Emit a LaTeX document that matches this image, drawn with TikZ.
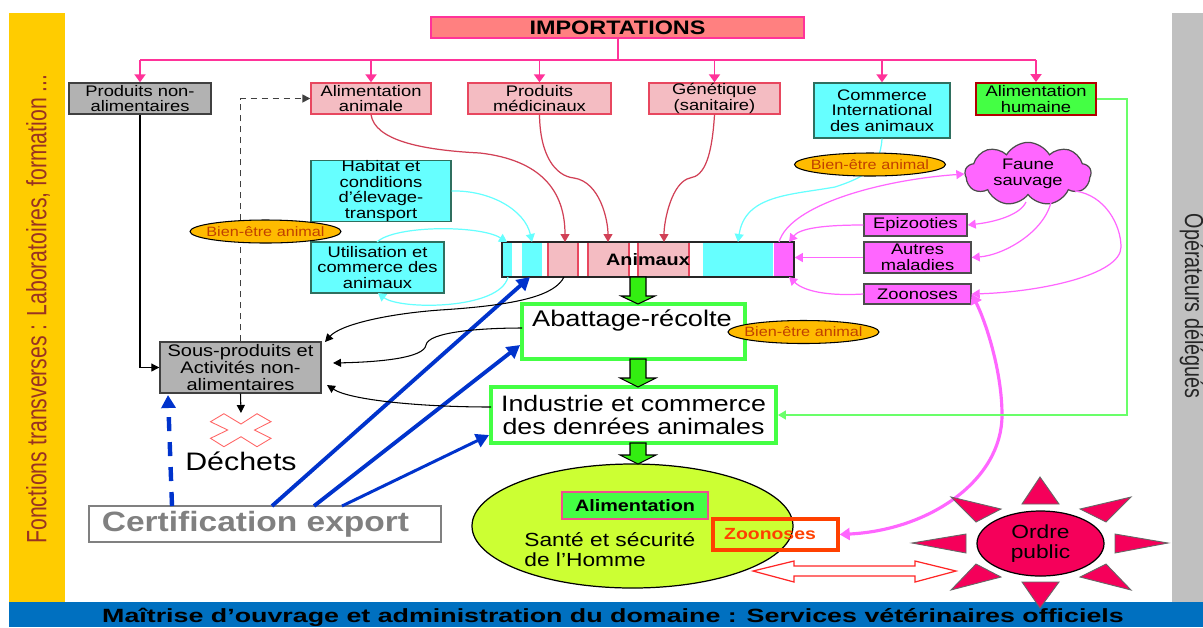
\documentclass[tikz,border=0pt]{standalone}
\usepackage{fontspec}
\setmainfont[FakeStretch=1.2]{Liberation Sans}
\newfontfamily\narrowfont[FakeStretch=0.76]{Liberation Sans}
\newfontfamily\widefont[FakeStretch=1.4]{Liberation Sans}
\usetikzlibrary{arrows.meta,shapes.geometric,shapes.symbols}
\def\pxu{0.02cm}
\definecolor{bandyellow}{HTML}{FFCC00}
\definecolor{bandgrey}{HTML}{C0C0C0}
\definecolor{bandblue}{HTML}{0070C0}
\definecolor{rosefill}{HTML}{F4BCC2}
\definecolor{roseline}{HTML}{E8475F}
\definecolor{cyanfill}{HTML}{66FFFF}
\definecolor{cyanline}{HTML}{2F6F5F}
\definecolor{magfill}{HTML}{FF66FF}
\definecolor{greenfill}{HTML}{44FF44}
\definecolor{greyfill}{HTML}{B2B2B2}
\definecolor{hotpink}{HTML}{FF3399}
\definecolor{arrowblue}{HTML}{0033CC}
\definecolor{sunred}{HTML}{F5005A}
\definecolor{limefill}{HTML}{CCFF33}
\definecolor{blockgreen}{HTML}{33EE11}
\definecolor{welfare}{HTML}{C04000}
\definecolor{welfarefill}{HTML}{FFBB00}
\definecolor{sidered}{HTML}{993322}
\definecolor{zoored}{HTML}{FF4000}
\tikzset{
  wh/.style 2 args={minimum width=#1*\pxu,minimum height=#2*\pxu},
  txt/.style={inner sep=0pt,align=center,font=\fontsize{8.7}{8.8}\selectfont},
  greybox/.style={txt,draw=black!75,fill=greyfill,line width=0.8pt},
  rosebox/.style={txt,draw=roseline,fill=rosefill,line width=0.8pt},
  cyanbox/.style={txt,draw=cyanline,fill=cyanfill,line width=0.8pt},
  magbox/.style={txt,draw=black!70,fill=magfill,line width=0.8pt},
  stagebox/.style={txt,draw=greenfill,fill=white,line width=2.2pt,font=\fontsize{12.7}{12.8}\selectfont},
  welfarelabel/.style={txt,ellipse,draw=black,fill=welfarefill,wh={151}{23},inner xsep=-7*\pxu,text=welfare,line width=0.6pt,font=\fontsize{7.7}{8}\selectfont},
  pinkline/.style={draw=hotpink,line width=1.1pt,-{Triangle[length=1.6mm,width=2.2mm]}},
  redline/.style={draw=roseline!90!black,line width=0.7pt,-{Triangle[length=1.6mm,width=1.8mm]}},
  cyanline/.style={draw=cyanfill,line width=0.7pt,-{Triangle[length=1.6mm,width=1.8mm]}},
  magline/.style={draw=magfill,line width=0.7pt,-{Triangle[length=1.6mm,width=1.8mm]}},
  blackline/.style={draw=black,line width=0.6pt,-{Triangle[length=1.6mm,width=1.6mm]}},
  blueline/.style={draw=arrowblue,line width=2.2pt,-{Triangle[length=2.6mm,width=2.8mm]}},
  suntri/.style={draw=black!60,fill=sunred,line width=0.5pt},
}
\begin{document}
\begin{tikzpicture}[x=0.02cm,y=-0.02cm]
\useasboundingbox (0,0) rectangle (1203,627);
% bands
\fill[bandyellow] (9,13) rectangle (65,602);
\fill[bandgrey] (1172,13) rectangle (1203,602);
\fill[bandblue] (9,602) rectangle (1203,627);
\node[txt,rotate=90,text=sidered,font=\narrowfont\fontsize{15.9}{16}\selectfont] (side) at (38,309) {Fonctions transverses : Laboratoires, formation ...};
\node[txt,rotate=-90,text=black!85,font=\narrowfont\fontsize{14.8}{15}\selectfont] (oper) at (1192,306) {Opérateurs délégués};
\node[txt,font=\widefont\bfseries\fontsize{10.9}{11}\selectfont] (moa) at (613,617) {Maîtrise d’ouvrage et administration du domaine : Services vétérinaires officiels};

% top row
\node[txt,wh={373}{21},draw=hotpink,fill=red!50,line width=0.8pt,font=\bfseries\fontsize{11.1}{11.2}\selectfont] (imp) at (617.5,27.5) {IMPORTATIONS};
\node[greybox,wh={142}{31}] (pna) at (140,98.5) {Produits non-\\alimentaires};
\node[rosebox,wh={120}{31}] (alan) at (371,98.5) {Alimentation\\animale};
\node[rosebox,wh={143}{31}] (pmed) at (539.5,98.5) {Produits\\médicinaux};
\node[rosebox,wh={131}{31}] (gen) at (714.5,98.5) {Génétique\\(sanitaire)};
\node[cyanbox,wh={136}{55}] (com) at (882,110.5) {Commerce\\International\\des animaux};
\node[txt,wh={120}{32},draw=red!70!black,fill=greenfill,line width=1.1pt] (ahum) at (1036,99) {Alimentation\\humaine};
\coordinate (trunk) at (618,60);
\draw[draw=hotpink,line width=1.1pt] (imp.south -| trunk) -- (trunk);
\draw[draw=hotpink,line width=1.1pt] (140,60) -- (1036,60);
\foreach \boxname in {pna,alan,pmed,gen,com,ahum}
  \draw[pinkline] (trunk -| \boxname.north) -- (\boxname.north);

% left boxes
\node[cyanbox,wh={140}{60}] (hab) at (381,191) {Habitat et\\conditions\\d’élevage-\\transport};
\node[cyanbox,wh={133}{51}] (uti) at (377.5,267.5) {Utilisation et\\commerce des\\animaux};
\node[greybox,wh={161}{51},font=\fontsize{9.5}{9.6}\selectfont] (sous) at (240.5,367.5) {Sous-produits et\\Activités non-\\alimentaires};

% animal bar
\foreach \xa/\xb in {502/512,522/542,703/773}
  \fill[cyanfill] (\xa,242) rectangle (\xb,277);
\foreach \xa/\xb in {548/578,588/629,638/689}
  \draw[fill=rosefill,draw=roseline,line width=0.7pt] (\xa,242) rectangle (\xb,277);
\fill[magfill] (774,242) rectangle (794,277);
\node[txt,wh={292}{35},draw=black!85,line width=0.9pt,font=\bfseries\fontsize{9.4}{10}\selectfont] (ani) at (648,259.5) {Animaux};

% right boxes
\node[txt,cloud,cloud puffs=9,cloud puff arc=120,aspect=2.1,draw=black!70,fill=magfill,wh={126}{62},line width=0.7pt] (cloudy) at (1028,174) {Faune\\sauvage};
\node[magbox,wh={103}{22}] (epi) at (915.5,225) {Epizooties};
\node[magbox,wh={107}{31}] (aut) at (917.5,257.5) {Autres\\maladies};
\node[magbox,wh={107}{20}] (zoo) at (917.5,294) {Zoonoses};

% stages
\node[stagebox,wh={223}{55}] (aba) at (633.5,331.5) {};
\node[txt,font=\fontsize{12.9}{14}\selectfont] (abatxt) at (632,320) {Abattage-récolte};
\node[stagebox,wh={285}{56}] (ind) at (633.5,415) {Industrie et commerce\\des denrées animales};
\node[txt,ellipse,draw=black,fill=limefill,wh={321}{124},line width=0.7pt] (homme) at (632.5,526) {};
\node[txt,wh={146}{27},draw=roseline!70!magfill,fill=greenfill,line width=0.8pt,font=\bfseries\fontsize{9.4}{10}\selectfont] (alim) at (635,505.5) {Alimentation};
\node[txt,align=left,font=\fontsize{10.8}{11.4}\selectfont,anchor=west] (sante) at (524,550) {Santé et sécurité\\de l’Homme};
\node[txt,wh={125}{31},draw=zoored,line width=1.9pt] (zooh) at (775.5,534.5) {};
\node[txt,text=zoored,font=\bfseries\fontsize{9.2}{10}\selectfont] (zootxt) at (770,534) {Zoonoses};

% free ends on the bar
\coordinate (e1) at (507,242);
\coordinate (e2) at (532,242);
\coordinate (e3) at (565,242);
\coordinate (e4) at (608,242);
\coordinate (e5) at (664,242);
\coordinate (e6) at (738,242);
\coordinate (e7) at (779,242);
\coordinate (e8) at (789,242);
\coordinate (e9) at (789,277);
\coordinate (f1) at (508,277);
\coordinate (f2) at (564,277);
\coordinate (f3) at (530,277);

% red feeds
\draw[redline] (alan.south) .. controls (375,140) and (420,150) .. (480,153) .. controls (540,160) and (565,190) .. (e3);
\draw[redline] (pmed.south) .. controls (540,155) and (555,176) .. (574,178) .. controls (600,182) and (608,220) .. (e4);
\draw[redline] (gen.south) .. controls (712,155) and (705,176) .. (690,178) .. controls (672,182) and (664,220) .. (e5);

% cyan feeds
\draw[cyanline] (hab.east) .. controls (490,190) and (525,210) .. (e2);
\draw[cyanline] (377,242) .. controls (395,225) and (480,225) .. (e1);
\draw[cyanline] (f1) .. controls (500,310) and (400,310) .. (378,293);
\draw[cyanline] (com.south) .. controls (880,170) and (862,178) .. (835,187) .. controls (790,195) and (745,195) .. (e6);

% magenta links
\draw[magline] (e7) .. controls (790,205) and (880,180) .. (cloudy.west);
\draw[magline] (epi.west) .. controls (825,225) and (800,228) .. (e8);
\draw[magline] (aut.west) -- (ani.east |- aut.west);
\draw[magline] (zoo.west) .. controls (830,296) and (805,292) .. (e9);
\draw[magline] (1026,202) .. controls (1020,215) and (995,222) .. (epi.east);
\draw[magline] (1052,197) .. controls (1048,230) and (1005,255) .. (aut.east);
\draw[magline] (1075,191) .. controls (1105,195) and (1121,225) .. (1121,247) .. controls (1121,275) and (1040,292) .. (zoo.east);
\draw[draw=magfill,line width=1.8pt,{Triangle[length=2mm,width=2.4mm]}-{Triangle[length=2mm,width=2.4mm]}] (zoo.east) .. controls (985,320) and (1002,370) .. (1002,415) .. controls (1002,480) and (930,530) .. (zooh.east);

% human food line
\coordinate (vert) at (1127,415);
\draw[draw=greenfill!80!white,line width=0.8pt,-{Triangle[length=1.6mm,width=1.8mm]}] (ahum.east) -| (vert) -- (ind.east);

% waste links
\node[draw=none,inner sep=0pt] (dech) at (241,461) {\fontsize{14.4}{15}\selectfont Déchets};
\coordinate (xtop) at (241,413);
\draw[draw=red!60,line width=0.5pt,fill=white] (210.5,421.7) -- (223.9,413.7) -- (241,424) -- (257,413.7) -- (271,421.7) -- (254.5,430) -- (271,438.3) -- (257,446.7) -- (241,436.7) -- (223.9,446.7) -- (210.5,438.3) -- (227.7,430) -- cycle;
\draw[blackline] (sous.south) -- (xtop);
\draw[blackline] (pna.south) |- (sous.west);
\draw[blackline,dashed,draw=black!75,line width=0.9pt,dash pattern=on 6*\pxu off 5*\pxu] (sous.north) |- (alan.west);

% certification
\node[txt,wh={352}{36},draw=black!50,fill=white,line width=0.8pt] (cert) at (265,524) {};
\node[txt,text=black!50,font=\bfseries\fontsize{15.9}{16}\selectfont] (certtxt) at (255.5,524) {Certification export};
\draw[blueline] (272,506) -- (f3);
\draw[blueline] (314,506) -- (aba.west |- 0,345);
\draw[blueline,line width=1.7pt] (342,506) -- (ind.west |- 0,435);
\draw[blueline,line width=2.5pt,dash pattern=on 14*\pxu off 11*\pxu] (172,506) -- (168,395);

% black returns
\coordinate (abaout) at (522,328);
\coordinate (indout) at (491,407);
\draw[blackline] (f2) .. controls (555,295) and (520,305) .. (440,310) .. controls (385,314) and (340,325) .. (325,342);
\draw[blackline] (abaout) .. controls (480,328) and (428,332) .. (426,345) .. controls (424,358) and (380,362) .. (333,363);
\draw[blackline] (indout) .. controls (420,407) and (350,400) .. (327,385);

% block arrows
\foreach \ya/\yb/\yc/\hw in {277/296/304/17,359/378/387/18,443/455/464/18}
  \draw[fill=blockgreen,draw=black,line width=0.6pt] (630,\ya) -- (646,\ya) -- (646,\yb) -- (638+\hw,\yb) -- (638,\yc) -- (638-\hw,\yb) -- (630,\yb) -- cycle;

% welfare labels
\node[welfarelabel] (bea) at (265.5,231.5) {Bien-être animal};
\node[welfarelabel] (beb) at (870,164.5) {Bien-être animal};
\node[welfarelabel] (bec) at (803.5,332) {Bien-être animal};

% double arrow
\draw[draw=red!85,line width=0.7pt,fill=white] (753,571) -- (794,561) -- (794,566) -- (915,566) -- (915,561) -- (956,571) -- (915,582) -- (915,576) -- (794,576) -- (794,582) -- cycle;

% sun
\node[txt,ellipse,draw=black,fill=sunred,wh={127}{65},line width=0.7pt,font=\fontsize{10.8}{11.6}\selectfont] (ordre) at (1040.5,543.5) {Ordre\\public};
\draw[suntri] (1040,477) -- (1022,504) -- (1059,504) -- cycle;
\draw[suntri] (1040,608) -- (1022,582) -- (1059,582) -- cycle;
\draw[suntri] (912,543) -- (966,534) -- (966,553) -- cycle;
\draw[suntri] (1168,543) -- (1115,534) -- (1115,553) -- cycle;
\draw[suntri] (951,497) -- (1001,509) -- (976,522) -- cycle;
\draw[suntri] (1131,497) -- (1080,509) -- (1106,522) -- cycle;
\draw[suntri] (951,590) -- (1001,577) -- (976,564) -- cycle;
\draw[suntri] (1131,590) -- (1080,577) -- (1106,564) -- cycle;
\end{tikzpicture}
\end{document}
